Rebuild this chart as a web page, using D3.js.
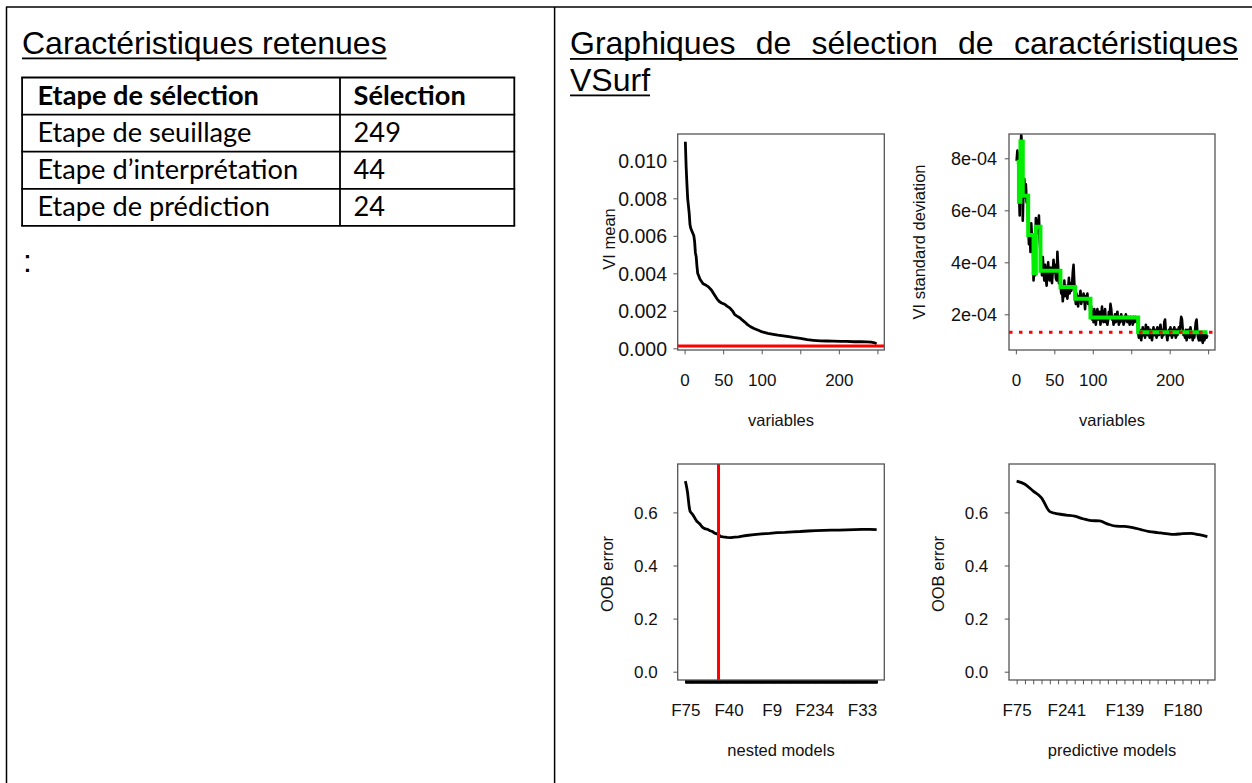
<!DOCTYPE html>
<html><head><meta charset="utf-8">
<script src="https://cdn.jsdelivr.net/npm/d3@7"></script>
<style>body{margin:0;background:#fff}svg{display:block}</style>
</head><body>
<svg id="c" width="1252" height="783"></svg>
<script>
// ---------------- DATA ----------------
const leftTitle = "Caractéristiques retenues";
const rightTitleLine1 = ["Graphiques", "de", "sélection", "de", "caractéristiques"];
const rightTitleLine2 = ["VSurf"];
const tableHeader = ["Etape de sélection", "Sélection"];
const tableSteps = ["Etape de seuillage", "Etape d’interprétation", "Etape de prédiction"];
const tableCounts = [249, 44, 24];

// Plot 1 : VI mean (sampled along the ranked variables)
const viMeanIdx = [1,2,3,4,5,6,7,8,10,12,13,14,15,16,17,20,24,28,31,35,38,42,45,48,52,55,59,62,65,68,72,75,78,82,85,90,94,98,102,108,115,121,128,135,141,150,159,167,176,184,193,202,210,220,228,236,242,245,249];
const viMeanVal = [0.01102,0.0097,0.0088,0.0080,0.0076,0.0072,0.0066,0.0064,0.0062,0.0060,0.0057,0.0051,0.0049,0.0044,0.0040,0.00368,0.00344,0.00336,0.00328,0.00310,0.0029,0.00264,0.0025,0.00242,0.00235,0.00225,0.00214,0.0020,0.0018,0.00172,0.00162,0.0015,0.0014,0.00125,0.00117,0.00106,0.00099,0.00092,0.00086,0.0008,0.00075,0.00071,0.00067,0.00062,0.00058,0.00053,0.00046,0.00043,0.0004,0.00039,0.00038,0.00037,0.00037,0.00035,0.00035,0.00034,0.00033,0.00031,0.00024];
const viMeanThreshold = 0.000127;
const viTicks = [0, 50, 100, 150, 200, 250];
const viTickLabels = ["0", "50", "100", "", "200", ""];
const viMeanYTicks = [0, 0.002, 0.004, 0.006, 0.008, 0.010];
const viMeanYLabels = ["0.000", "0.002", "0.004", "0.006", "0.008", "0.010"];

// Plot 2 : VI standard deviation (units of 1e-04), variables 1..249
const viSd = [
 7.9,8.3,8.0,6.9,5.8,8.4,8.9,8.5,5.6,6.9,
 7.2,6.5,7.0,6.3,6.4,5.6,4.7,5.3,4.4,5.5,
 4.9,4.9,3.3,3.9,3.5,5.7,5.1,5.6,5.4,5.8,
 4.8,4.4,4.0,3.5,4.2,3.7,3.3,3.9,3.4,3.1,
 3.6,4.0,3.5,3.3,3.8,3.4,3.2,3.7,4.1,3.6,
 3.9,3.4,3.3,4.4,3.8,3.2,3.5,3.2,2.8,3.0,
 2.5,2.9,3.3,2.7,3.1,2.9,2.6,3.0,3.4,2.8,
 3.2,2.9,3.1,3.6,3.9,3.2,2.7,2.4,2.8,2.5,
 2.3,2.7,2.6,2.9,2.4,2.7,2.5,2.8,2.6,2.2,
 2.7,2.5,2.8,2.4,2.6,2.5,2.0,2.3,1.8,2.1,
 1.7,2.2,1.9,1.6,2.0,2.2,1.8,1.9,2.1,1.6,
 1.9,2.3,1.8,1.7,2.0,2.2,1.7,1.9,1.6,1.8,
 2.1,1.9,2.4,2.2,1.8,1.9,1.6,1.8,2.0,1.7,
 1.9,2.1,1.8,1.6,1.9,1.7,2.0,1.8,1.9,1.6,
 1.7,1.9,2.0,1.8,1.7,1.9,1.8,1.6,1.9,1.7,
 1.8,1.6,1.9,1.7,1.8,1.9,1.7,1.8,1.3,1.1,
 1.4,1.2,1.0,1.3,1.5,1.2,1.4,1.1,1.6,1.4,
 1.2,1.5,1.3,1.1,1.4,1.2,1.0,1.3,1.5,1.2,
 1.4,1.3,1.1,1.5,1.3,1.2,1.4,1.6,1.3,1.1,
 1.4,1.2,1.7,1.8,1.3,1.2,1.0,1.3,1.4,1.2,
 1.5,1.3,1.1,1.4,1.2,1.5,1.3,1.1,1.4,1.2,
 1.3,1.5,1.4,1.6,1.9,1.8,1.4,1.2,1.3,1.1,
 1.4,1.0,1.2,1.4,1.3,1.1,1.5,1.3,1.2,1.0,
 1.3,1.1,1.4,1.7,1.8,1.3,1.1,1.0,1.2,1.0,
 1.3,1.1,0.9,1.2,1.0,1.1,1.3,1.1,1.2];
// CART step fit (green) : first variable of each step and its level (1e-04)
const cartStart = [1, 4, 6, 9, 16, 23, 26, 32, 58, 77, 97, 159];
const cartLevel = [7.87, 6.33, 8.65, 6.56, 5.05, 3.58, 5.37, 3.68, 3.05, 2.60, 1.88, 1.31];
const cartEnd = 249;
const sdThreshold = 1.31;
const sdYTicks = [2, 4, 6, 8];
const sdYLabels = ["2e-04", "4e-04", "6e-04", "8e-04"];

// Plot 3 : OOB error of nested models (sampled), 249 models
const nestedIdx = [1,2,3,4,5,6,7,8,10,12,14,16,18,20,22,24,27,30,33,36,39,42,44,46,50,55,60,65,70,75,80,90,100,110,120,130,140,150,160,170,180,190,200,210,220,230,240,249];
const nestedErr = [0.718,0.705,0.690,0.672,0.645,0.620,0.605,0.600,0.594,0.585,0.575,0.566,0.561,0.556,0.548,0.542,0.538,0.536,0.531,0.528,0.522,0.519,0.518,0.510,0.508,0.506,0.505,0.507,0.508,0.511,0.513,0.516,0.519,0.521,0.524,0.525,0.527,0.528,0.530,0.531,0.532,0.533,0.533,0.534,0.535,0.536,0.536,0.535];
const nestedCount = 249;
const nestedSelected = 44;
const nestedLabelIdx = [1, 57, 113, 168, 230];
const nestedLabels = ["F75", "F40", "F9", "F234", "F33"];

// Plot 4 : OOB error of predictive models, 24 models
const predErr = [0.718,0.706,0.680,0.655,0.603,0.594,0.590,0.586,0.576,0.569,0.568,0.556,0.548,0.547,0.543,0.535,0.528,0.524,0.520,0.517,0.520,0.521,0.516,0.509];
const predLabelIdx = [1, 7, 14, 21];
const predLabels = ["F75", "F241", "F139", "F180"];

const oobYTicks = [0, 0.2, 0.4, 0.6];
const oobYLabels = ["0.0", "0.2", "0.4", "0.6"];

// ---------------- DRAWING ----------------
const svg = d3.select("#c");
const SANS = "'Liberation Sans', Arial, sans-serif";

// frame
const frame = svg.append("g").attr("stroke", "#000").attr("stroke-width", 1.5);
frame.append("line").attr("x1", 6).attr("x2", 1252).attr("y1", 7).attr("y2", 7);
frame.append("line").attr("x1", 6.5).attr("x2", 6.5).attr("y1", 7).attr("y2", 783);
frame.append("line").attr("x1", 554.6).attr("x2", 554.6).attr("y1", 7).attr("y2", 783);

// left title
const lt = svg.append("text").attr("x", 22).attr("y", 53.5)
  .attr("font-family", SANS).attr("font-size", 32).attr("fill", "#000").text(leftTitle);
const ltw = lt.node().getComputedTextLength();
svg.append("rect").attr("x", 22).attr("y", 57.5).attr("width", ltw).attr("height", 1.8).attr("fill", "#000");

// right title, justified line + second line
function justify(words, x0, x1, y, justifyIt) {
  const g = svg.append("g");
  const nodes = words.map(w => g.append("text").attr("y", y).attr("font-family", SANS)
     .attr("font-size", 32).attr("fill", "#000").text(w));
  const widths = nodes.map(n => n.node().getComputedTextLength());
  const total = d3.sum(widths);
  const gap = (justifyIt && words.length > 1) ? (x1 - x0 - total) / (words.length - 1) : 8.9;
  let x = x0;
  nodes.forEach((n, i) => { n.attr("x", x); x += widths[i] + gap; });
  const end = justifyIt ? x1 : x0 + total;
  g.append("rect").attr("x", x0).attr("y", y + 4).attr("width", end - x0).attr("height", 1.8).attr("fill", "#000");
}
justify(rightTitleLine1, 570, 1238, 54, true);
justify(rightTitleLine2, 570, 1238, 90.5, false);

// table
const TFONT = "Lato, 'Open Sans', sans-serif";
function fitSize(str, weight, target) {
  const t = svg.append("text").attr("font-family", TFONT).attr("font-weight", weight)
    .attr("font-size", 100).text(str);
  const w = t.node().getComputedTextLength(); t.remove();
  return 100 * target / w;
}
const tSize = fitSize(tableSteps[0], 400, 214);
const tbl = {x0: 22.1, x1: 514.3, xm: 340, y0: 77.5, rowH: 37.1};
const nRows = tableSteps.length + 1;
const rowY = d3.scaleLinear().domain([0, nRows]).range([tbl.y0, tbl.y0 + tbl.rowH * nRows]);
const tg = svg.append("g");
const tl = tg.append("g").attr("stroke", "#000").attr("stroke-width", 1.8);
d3.range(nRows + 1).forEach(r => tl.append("line").attr("x1", tbl.x0 - 0.9).attr("x2", tbl.x1 + 0.9).attr("y1", rowY(r)).attr("y2", rowY(r)));
[tbl.x0, tbl.xm, tbl.x1].forEach(x => tl.append("line").attr("x1", x).attr("x2", x).attr("y1", rowY(0)).attr("y2", rowY(nRows)));
const rows = [tableHeader].concat(tableSteps.map((s, i) => [s, String(tableCounts[i])]));
rows.forEach((r, i) => {
  [0, 1].forEach(c => tg.append("text")
    .attr("x", c === 0 ? 37.5 : 353.6).attr("y", rowY(i + 1) - 9.6)
    .attr("font-family", TFONT).attr("font-size", tSize)
    .attr("font-weight", i === 0 ? 700 : 400).attr("fill", "#000").text(r[c]));
});
svg.append("text").attr("x", 23).attr("y", 272).attr("font-family", SANS)
  .attr("font-size", 32).attr("fill", "#000").text(":");

// ---- panels ----
const LAB_FS = 16.5, BOXC = "#555";
function panel(o) {
  const g = svg.append("g");
  const x = d3.scaleLinear().domain(o.xDomain).range([o.bx0, o.bx1]);
  const y = d3.scaleLinear().domain(o.yDomain).range([o.by1, o.by0]);
  const id = "clip" + o.name;
  g.append("clipPath").attr("id", id).append("rect")
    .attr("x", o.bx0).attr("y", o.by0).attr("width", o.bx1 - o.bx0).attr("height", o.by1 - o.by0);
  const plot = g.append("g").attr("clip-path", `url(#${id})`);
  // axes
  const xa = d3.axisBottom(x).tickValues(o.xTicks).tickSize(o.xTickLen || 4.3).tickSizeOuter(0)
    .tickFormat((d, i) => o.xLabel(d, i));
  const gx = g.append("g").attr("transform", `translate(0,${o.by1})`).call(xa);
  gx.select(".domain").remove();
  gx.selectAll(".tick line").attr("stroke", o.xTickColor || BOXC).attr("stroke-width", o.xTickW || 1);
  gx.selectAll(".tick text").attr("y", 36.3).attr("dy", null)
    .attr("font-family", SANS).attr("font-size", 17).attr("fill", "#111");
  const ya = d3.axisLeft(y).tickValues(o.yTicks).tickSize(4.3).tickSizeOuter(0)
    .tickFormat((d, i) => o.yLabels[i]);
  const gy = g.append("g").attr("transform", `translate(${o.bx0},0)`).call(ya);
  gy.select(".domain").remove();
  gy.selectAll(".tick line").attr("stroke", BOXC).attr("stroke-width", 1);
  gy.selectAll(".tick text").attr("x", -o.yLabOff).attr("dy", "0.36em")
    .attr("font-family", SANS).attr("font-size", o.yFs).attr("fill", "#111");
  // axis titles
  g.append("text").attr("x", (o.bx0 + o.bx1) / 2).attr("y", o.by1 + 75.5).attr("text-anchor", "middle")
    .attr("font-family", SANS).attr("font-size", LAB_FS).attr("fill", "#111").text(o.xTitle);
  g.append("text").attr("transform", `translate(${o.yTitleX},${o.yTitleY}) rotate(-90)`)
    .attr("text-anchor", "middle").attr("font-family", SANS).attr("font-size", LAB_FS)
    .attr("fill", "#111").text(o.yTitle);
  o.draw(plot, x, y);
  g.append("rect").attr("x", o.bx0).attr("y", o.by0).attr("width", o.bx1 - o.bx0)
    .attr("height", o.by1 - o.by0).attr("fill", "none").attr("stroke", BOXC).attr("stroke-width", 1.3);
}

const viLabel = (d, i) => viTickLabels[i];

panel({
  name: "p1", bx0: 677.7, bx1: 884.3, by0: 134, by1: 350,
  xDomain: [-8.92, 258.92], yDomain: [-0.0000887, 0.01143],
  xTicks: viTicks, xLabel: viLabel, yTicks: viMeanYTicks, yLabels: viMeanYLabels, yLabOff: 10.7, yFs: 19.5,
  xTitle: "variables", yTitle: "VI mean", yTitleX: 615, yTitleY: 239,
  draw: (p, x, y) => {
    const pts = viMeanIdx.map((v, i) => [v, viMeanVal[i]]);
    p.append("path").datum(pts).attr("fill", "none").attr("stroke", "#000").attr("stroke-width", 2.8)
      .attr("stroke-linejoin", "round").attr("d", d3.line().x(d => x(d[0])).y(d => y(d[1])));
    p.append("line").attr("x1", x.range()[0]).attr("x2", x.range()[1])
      .attr("y1", y(viMeanThreshold)).attr("y2", y(viMeanThreshold)).attr("stroke", "#ff0000").attr("stroke-width", 3);
  }
});

panel({
  name: "p2", bx0: 1009, bx1: 1215, by0: 134, by1: 350,
  xDomain: [-8.92, 258.92], yDomain: [0.627, 8.935],
  xTicks: viTicks, xLabel: viLabel, yTicks: sdYTicks, yLabels: sdYLabels, yLabOff: 12, yFs: 18,
  xTitle: "variables", yTitle: "VI standard deviation", yTitleX: 925, yTitleY: 242,
  draw: (p, x, y) => {
    p.append("path").datum(viSd).attr("fill", "none").attr("stroke", "#000").attr("stroke-width", 2.6)
      .attr("stroke-linejoin", "round").attr("d", d3.line().x((d, i) => x(i + 1)).y(d => y(d)));
    const steps = cartStart.map((s, i) => [s, cartLevel[i]]);
    steps.push([cartEnd, cartLevel[cartLevel.length - 1]]);
    p.append("path").datum(steps).attr("fill", "none").attr("stroke", "#00ee00").attr("stroke-width", 4)
      .attr("d", d3.line().curve(d3.curveStepAfter).x(d => x(d[0])).y(d => y(d[1])));
    p.append("line").attr("x1", x.range()[0]).attr("x2", x.range()[1])
      .attr("y1", y(sdThreshold)).attr("y2", y(sdThreshold)).attr("stroke", "#ff0000")
      .attr("stroke-width", 3).attr("stroke-dasharray", "3.5,6.5");
  }
});

const nestedTicks = d3.range(1, nestedCount + 1);
panel({
  name: "p3", bx0: 677.7, bx1: 884.3, by0: 464, by1: 680,
  xDomain: [-8.92, 258.92], yDomain: [-0.0313, 0.7823],
  xTicks: nestedTicks, xTickLen: 3.6, xTickColor: "#000", xTickW: 1.6,
  xLabel: d => { const k = nestedLabelIdx.indexOf(d); return k >= 0 ? nestedLabels[k] : ""; },
  yTicks: oobYTicks, yLabels: oobYLabels, yLabOff: 20, yFs: 17,
  xTitle: "nested models", yTitle: "OOB error", yTitleX: 613.3, yTitleY: 574,
  draw: (p, x, y) => {
    const pts = nestedIdx.map((v, i) => [v, nestedErr[i]]);
    p.append("path").datum(pts).attr("fill", "none").attr("stroke", "#000").attr("stroke-width", 2.8)
      .attr("stroke-linejoin", "round").attr("d", d3.line().x(d => x(d[0])).y(d => y(d[1])));
    p.append("line").attr("x1", x(nestedSelected)).attr("x2", x(nestedSelected))
      .attr("y1", y.range()[1]).attr("y2", y.range()[0]).attr("stroke", "#ff0000").attr("stroke-width", 3);
  }
});

const predTicks = d3.range(1, predErr.length + 1);
panel({
  name: "p4", bx0: 1009, bx1: 1215, by0: 464, by1: 680,
  xDomain: [0.08, 24.92], yDomain: [-0.0313, 0.7823],
  xTicks: predTicks, xTickLen: 4.3,
  xLabel: d => { const k = predLabelIdx.indexOf(d); return k >= 0 ? predLabels[k] : ""; },
  yTicks: oobYTicks, yLabels: oobYLabels, yLabOff: 20.7, yFs: 17,
  xTitle: "predictive models", yTitle: "OOB error", yTitleX: 944, yTitleY: 574,
  draw: (p, x, y) => {
    p.append("path").datum(predErr).attr("fill", "none").attr("stroke", "#000").attr("stroke-width", 2.8)
      .attr("stroke-linejoin", "round").attr("d", d3.line().curve(d3.curveMonotoneX).x((d, i) => x(i + 1)).y(d => y(d)));
  }
});
</script>
</body></html>
